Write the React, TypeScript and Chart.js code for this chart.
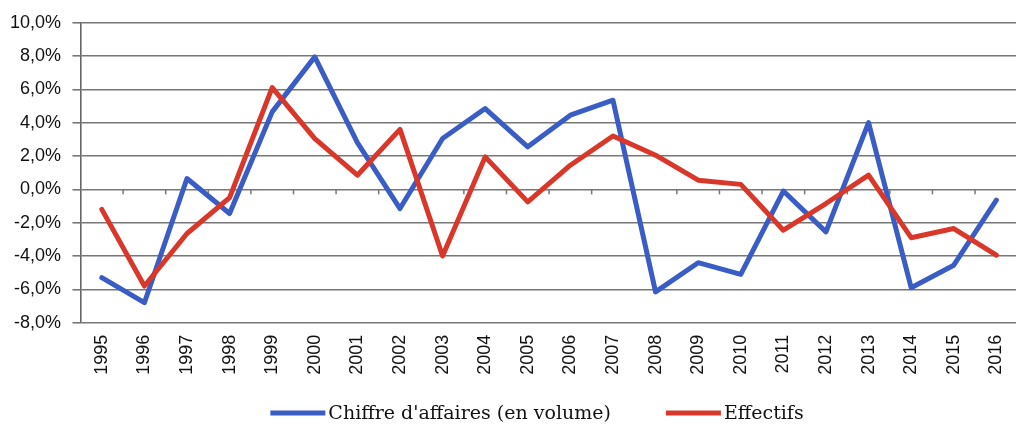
import React, { useEffect, useRef } from "react";
import { Chart, registerables } from "chart.js";

Chart.register(...registerables);

const years = [
  "1995", "1996", "1997", "1998", "1999", "2000", "2001", "2002", "2003", "2004", "2005",
  "2006", "2007", "2008", "2009", "2010", "2011", "2012", "2013", "2014", "2015", "2016",
];

const chiffreAffaires = [
  -5.3, -6.8, 0.65, -1.45, 4.65, 7.95, 2.8, -1.15, 3.05, 4.85, 2.55,
  4.45, 5.35, -6.15, -4.4, -5.1, -0.1, -2.55, 4.0, -5.9, -4.55, -0.65,
];

const effectifs = [
  -1.2, -5.8, -2.65, -0.5, 6.1, 3.05, 0.85, 3.6, -4.0, 1.95, -0.75,
  1.45, 3.2, 2.05, 0.55, 0.3, -2.45, -0.85, 0.85, -2.9, -2.35, -3.95,
];

const yTicks = [-8, -6, -4, -2, 0, 2, 4, 6, 8, 10];

const seriesLabels = ["Chiffre d'affaires (en volume)", "Effectifs"];
const seriesColors = ["#3A5CC5", "#D9372A"];

const GRID = "#777777";

const zeroTicksPlugin = {
  id: "zeroTicks",
  beforeDatasetsDraw(chart: any) {
    const x = chart.scales.x;
    const y = chart.scales.y;
    const n = chart.data.labels.length;
    const w = (x.right - x.left) / n;
    const y0 = y.getPixelForValue(0);
    const ctx = chart.ctx;
    ctx.save();
    ctx.strokeStyle = GRID;
    ctx.lineWidth = 1.5;
    for (let k = 1; k < n; k++) {
      const px = x.left + k * w;
      ctx.beginPath();
      ctx.moveTo(px, y0);
      ctx.lineTo(px, y0 + 5);
      ctx.stroke();
    }
    ctx.restore();
  },
};

const legendPlugin = {
  id: "customLegend",
  afterDraw(chart: any) {
    const ctx = chart.ctx;
    const ds = chart.data.datasets;
    const lineLen = 55;
    const textGap = 3;
    const itemGap = 55;
    const centerX = 537;
    const cy = 414;
    ctx.save();
    ctx.font = "19px 'DejaVu Serif'";
    ctx.textBaseline = "middle";
    ctx.textAlign = "left";
    const widths = ds.map((d: any) => lineLen + textGap + ctx.measureText(d.label).width);
    const total = widths.reduce((a: number, b: number) => a + b, 0) + itemGap * (ds.length - 1);
    let x = centerX - total / 2;
    ds.forEach((d: any, i: number) => {
      ctx.strokeStyle = d.borderColor;
      ctx.lineWidth = 5;
      ctx.lineCap = "butt";
      ctx.beginPath();
      ctx.moveTo(x, cy - 1);
      ctx.lineTo(x + lineLen, cy - 1);
      ctx.stroke();
      ctx.fillStyle = "#111111";
      ctx.fillText(d.label, x + lineLen + textGap, cy);
      x += widths[i] + itemGap;
    });
    ctx.restore();
  },
};

export default function App() {
  const ref = useRef<HTMLCanvasElement | null>(null);

  useEffect(() => {
    if (!ref.current) return;
    const chart = new Chart(ref.current, {
      type: "line",
      data: {
        labels: years,
        datasets: [
          {
            label: seriesLabels[0],
            data: chiffreAffaires,
            borderColor: seriesColors[0],
            backgroundColor: seriesColors[0],
            borderWidth: 5,
            pointRadius: 0,
            tension: 0,
            borderJoinStyle: "round",
            borderCapStyle: "round",
            order: 2,
          },
          {
            label: seriesLabels[1],
            data: effectifs,
            borderColor: seriesColors[1],
            backgroundColor: seriesColors[1],
            borderWidth: 5,
            pointRadius: 0,
            tension: 0,
            borderJoinStyle: "round",
            borderCapStyle: "round",
            order: 1,
          },
        ],
      },
      options: {
        responsive: false,
        animation: false,
        layout: { padding: { top: 22.7, bottom: 42, left: 0, right: 2.5 } },
        plugins: {
          legend: { display: false },
          tooltip: { enabled: false },
        },
        scales: {
          x: {
            type: "category",
            offset: true,
            grid: { display: false, drawTicks: false },
            border: { display: false },
            ticks: {
              autoSkip: false,
              minRotation: 90,
              maxRotation: 90,
              padding: 12,
              color: "#111111",
              font: { family: "'Liberation Sans'", size: 18 },
            },
            afterFit(scale: any) {
              scale.height = 60.3;
            },
          },
          y: {
            type: "linear",
            position: "left",
            min: -8,
            max: 10,
            afterBuildTicks(scale: any) {
              scale.ticks = yTicks.map((v) => ({ value: v }));
            },
            grid: {
              color: GRID,
              lineWidth: 1.6,
              drawTicks: true,
              tickLength: 8,
            },
            border: { display: true, color: "#666666", width: 1.6 },
            ticks: {
              padding: 11.5,
              color: "#111111",
              font: { family: "'Liberation Sans'", size: 18 },
              callback: (v: any) => Number(v).toFixed(1).replace(".", ",") + "%",
            },
            afterFit(scale: any) {
              scale.width = 80.5;
            },
          },
        },
      },
      plugins: [zeroTicksPlugin, legendPlugin],
    });
    return () => chart.destroy();
  }, []);

  return (
    <div
      style={{
        position: "fixed",
        left: 0,
        top: 0,
        width: 1016,
        height: 425,
        overflow: "hidden",
        background: "#ffffff",
      }}
    >
      <div style={{ position: "relative", width: 1030, height: 425 }}>
        <canvas ref={ref} width={1030} height={425} style={{ display: "block" }} />
      </div>
    </div>
  );
}
